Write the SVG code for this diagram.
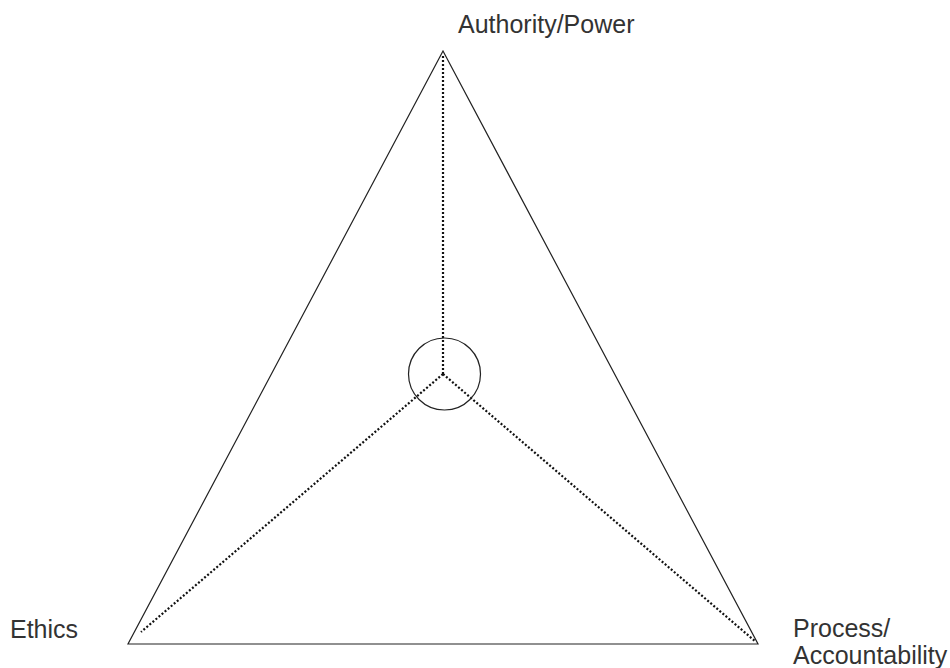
<svg xmlns="http://www.w3.org/2000/svg" width="950" height="668" viewBox="0 0 950 668">
<style>
.edge{fill:none;stroke:#222;stroke-width:1.2}
.dot{fill:none;stroke:#111;stroke-width:2.2;stroke-dasharray:2 2}
.lbl{font-family:"Liberation Sans",Arial,sans-serif;font-size:25px;fill:#333}
</style>
<rect width="950" height="668" fill="#fff"/>
<g id="connectors">
<polygon class="edge" points="443,51 128,644 758,644"/>
<line class="dot" x1="443" y1="56" x2="443" y2="374"/>
<line class="dot" x1="443" y1="374" x2="141" y2="632"/>
<line class="dot" x1="443" y1="374" x2="756" y2="642"/>
</g>
<g id="center"><circle class="edge" cx="444.5" cy="374" r="36"/></g>
<g id="authority"><text class="lbl" x="458" y="33">Authority/Power</text></g>
<g id="ethics"><text class="lbl" x="10" y="638">Ethics</text></g>
<g id="process"><text class="lbl" x="793" y="637">Process/</text><text class="lbl" x="793" y="664">Accountability</text></g>
</svg>
